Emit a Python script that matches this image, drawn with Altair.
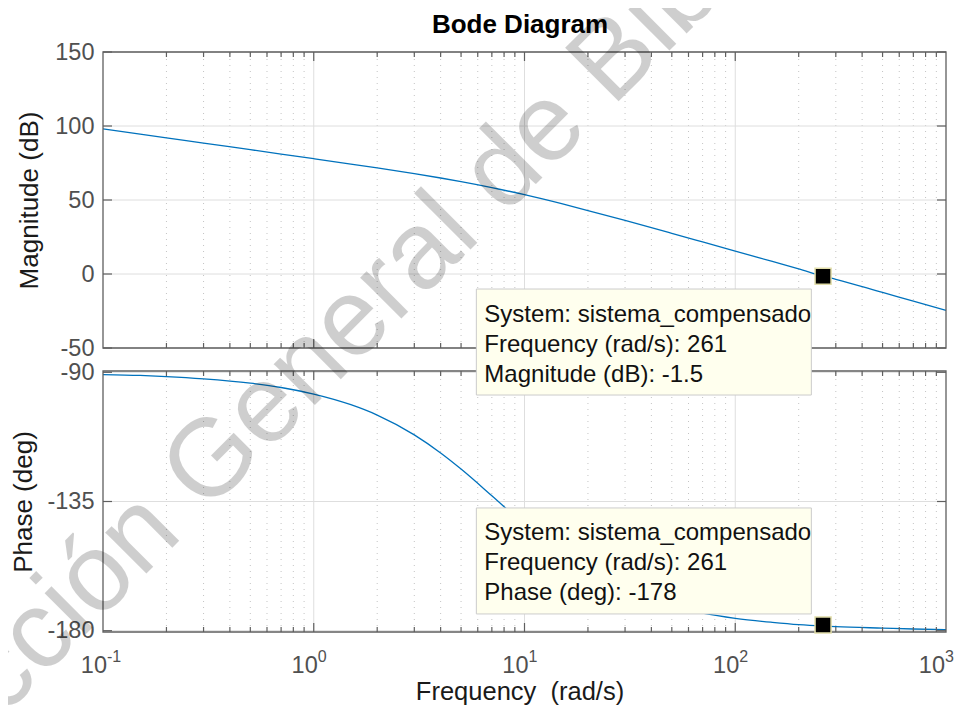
import altair as alt
import pandas as pd

# ---------------- data ----------------
freq = [0.1, 0.15, 0.2, 0.3, 0.5, 0.7, 1, 1.5, 2, 3, 4, 5, 7, 10, 15, 20,
        30, 50, 70, 100, 150, 200, 261, 300, 500, 700, 1000]
mag_db = [98.0, 94.5, 92.0, 88.45, 84.0, 81.06, 77.92, 74.31, 71.68, 67.82,
          64.87, 62.42, 58.38, 53.56, 47.49, 42.89, 36.16, 27.45, 21.65,
          15.48, 8.45, 3.46, -1.4, -3.58, -12.46, -18.3, -24.5]
phase_deg = [-90.8, -91.1, -91.5, -92.3, -93.8, -95.3, -97.6, -101.3, -104.9,
             -111.8, -118.1, -123.7, -133.0, -143.1, -153.4, -159.4, -166.0,
             -171.5, -173.9, -175.7, -177.1, -177.9, -178.4, -178.6, -179.1,
             -179.4, -179.6]

mag_ticks = [-50, 0, 50, 100, 150]
phase_ticks = [-180, -135, -90]
decades = [0.1, 1, 10, 100, 1000]
exponents = ["-1", "0", "1", "2", "3"]
inner_decades = [1, 10, 100]
minor_freqs = [m * d for d in [0.1, 1, 10, 100] for m in range(2, 10)]

marker_freq = [261]
marker_mag = [-1.5]
marker_phase = [-178]
tip_mag_lines = ["System: sistema_compensado", "Frequency (rad/s): 261", "Magnitude (dB): -1.5"]
tip_phase_lines = ["System: sistema_compensado", "Frequency (rad/s): 261", "Phase (deg): -178"]
watermark = "Dirección General de Bibliotecas"

# ---------------- styling ----------------
FONT = "Liberation Sans"
BLUE = "#0072BD"
EDGE = "#5f5f5f"
LABEL = "#505050"
GRID = "#dedede"
MINOR = "#c4c4c4"

X_SCALE = alt.Scale(type="log", domain=[0.1, 1000], nice=False)
SCALES = {
    "mag": alt.Scale(domain=[-50, 150], range=[296, 0], nice=False),
    "ph": alt.Scale(domain=[-180.45, -89.55], range=[580, 319], nice=False),
}
LIMITS = {"mag": (-50, 150), "ph": (-180.45, -89.55)}
YTICKS = {"mag": mag_ticks, "ph": phase_ticks}


def X(field="f"):
    return alt.X(f"{field}:Q", scale=X_SCALE, axis=None)


def Y(field, panel, axis=None):
    return alt.Y(f"{field}:Q", scale=SCALES[panel], axis=axis)


def grid_layers(panel):
    lo, hi = LIMITS[panel]
    out = []
    df = pd.DataFrame({"f": minor_freqs, "lo": lo, "hi": hi})
    out.append(alt.Chart(df).mark_rule(color=MINOR, strokeWidth=1, strokeDash=[1, 5])
               .encode(x=X(), y=Y("lo", panel), y2="hi"))
    df = pd.DataFrame({"f": inner_decades, "lo": lo, "hi": hi})
    out.append(alt.Chart(df).mark_rule(color=GRID, strokeWidth=1)
               .encode(x=X(), y=Y("lo", panel), y2="hi"))
    df = pd.DataFrame({"v": YTICKS[panel], "xl": 0.1, "xr": 1000})
    out.append(alt.Chart(df).mark_rule(color=GRID, strokeWidth=1)
               .encode(x=X("xl"), x2="xr", y=Y("v", panel)))
    return out


def edge_layers(panel):
    lo, hi = LIMITS[panel]
    out = []
    for fvals, length in ((inner_decades, 9), (minor_freqs, 5)):
        for yval, sign in ((hi, 1), (lo, -1)):
            df = pd.DataFrame({"f": fvals, "v": yval})
            out.append(alt.Chart(df).mark_rule(color=EDGE, strokeWidth=1.2, y2Offset=sign * length)
                       .encode(x=X(), y=Y("v", panel), y2="v"))
    for xval, sign in ((0.1, 1), (1000, -1)):
        df = pd.DataFrame({"v": YTICKS[panel], "xe": xval})
        out.append(alt.Chart(df).mark_rule(color=EDGE, strokeWidth=1.2, x2Offset=sign * 9)
                   .encode(x=X("xe"), x2="xe", y=Y("v", panel)))
    df = pd.DataFrame({"x0": [0.1], "x1": [1000], "y0": [lo], "y1": [hi]})
    out.append(alt.Chart(df).mark_rect(filled=False, stroke=EDGE, strokeWidth=1.3)
               .encode(x=X("x0"), x2="x1", y=Y("y0", panel), y2="y1"))
    return out


def y_axis(values, title, pad):
    return alt.Axis(orient="left", values=values, grid=False, ticks=False, tickSize=0,
                    domain=False, labelFontSize=23.5, labelColor=LABEL, labelPadding=9,
                    labelFont=FONT, labelExpr="datum.value + ''",
                    title=title, titleFont=FONT, titleFontSize=26, titleColor="#1a1a1a",
                    titleFontWeight="normal", titlePadding=pad)


curve = pd.DataFrame({"f": freq, "mag": mag_db, "ph": phase_deg})

mag_line = alt.Chart(curve).mark_line(color=BLUE, strokeWidth=1.3, interpolate="monotone").encode(
    x=X(), y=Y("mag", "mag", y_axis(mag_ticks, "Magnitude (dB)", 12)))
ph_line = alt.Chart(curve).mark_line(color=BLUE, strokeWidth=1.3, interpolate="monotone").encode(
    x=X(), y=Y("ph", "ph", y_axis(phase_ticks, "Phase (deg)", 10)))


def tip_layers(panel, values, lines, box_off, text_offs):
    df = pd.DataFrame({"f": marker_freq, "v": values})
    out = [alt.Chart(df).mark_rect(fill="#ffffee", stroke="#cccccc", strokeWidth=1,
                                   xOffset=-346.7, x2Offset=-11.7,
                                   yOffset=box_off[0], y2Offset=box_off[1])
           .encode(x=X(), x2="f", y=Y("v", panel), y2="v")]
    for line, dy in zip(lines, text_offs):
        d = pd.DataFrame({"f": marker_freq, "v": values, "t": [line]})
        out.append(alt.Chart(d).mark_text(align="left", baseline="middle", dx=-338.7, dy=dy,
                                          font=FONT, fontSize=24, color="#111111")
                   .encode(x=X(), y=Y("v", panel), text="t:N"))
    return out


def marker_layer(panel, values):
    df = pd.DataFrame({"f": marker_freq, "v": values})
    return alt.Chart(df).mark_square(filled=True, fill="#000000", stroke="#e2deaa",
                                     strokeWidth=1.5, size=256, opacity=1).encode(
        x=X(), y=Y("v", panel))


def tick_label_layers(fvals, exps, dx):
    df = pd.DataFrame({"f": fvals, "base": ["10"] * len(fvals), "exp": exps})
    base = alt.Chart(df).mark_text(align="right", baseline="alphabetic", dx=dx,
                                   font=FONT, fontSize=23.5, color=LABEL).encode(
        x=X(), y=alt.value(621), text="base:N")
    exp = alt.Chart(df).mark_text(align="left", baseline="alphabetic", dx=dx,
                                  font=FONT, fontSize=16, color=LABEL).encode(
        x=X(), y=alt.value(610), text="exp:N")
    return [base, exp]


txt = pd.DataFrame({"t": ["Bode Diagram"]})
title = alt.Chart(txt).mark_text(align="center", baseline="alphabetic", font=FONT,
                                 fontSize=26, fontWeight="bold", color="#000000").encode(
    x=alt.value(417), y=alt.value(-19), text="t:N")
xt = pd.DataFrame({"t": ["Frequency\u00a0 (rad/s)"]})
xtitle = alt.Chart(xt).mark_text(align="center", baseline="alphabetic", font=FONT,
                                 fontSize=25.5, color="#1a1a1a").encode(
    x=alt.value(417), y=alt.value(648), text="t:N")

wm = pd.DataFrame({"t": [watermark]})
wm_layer = alt.Chart(wm).mark_text(align="left", baseline="alphabetic", font=FONT,
                                   fontSize=110, angle=315, color="#000000", opacity=0.19).encode(
    x=alt.value(-243), y=alt.value(808), text="t:N")

layers = []
layers += grid_layers("mag") + grid_layers("ph")
layers += [mag_line, ph_line]
layers += edge_layers("mag") + edge_layers("ph")
layers += tip_layers("ph", marker_phase, tip_phase_lines, (-117, -11), (-92, -62, -32))
layers += tip_layers("mag", marker_mag, tip_mag_lines, (12.8, 118.8), (38.8, 68.8, 98.8))
layers += [marker_layer("mag", marker_mag), marker_layer("ph", marker_phase)]
layers += tick_label_layers(decades[:-1], exponents[:-1], 4)
layers += tick_label_layers(decades[-1:], exponents[-1:], -1)
layers += [title, xtitle, wm_layer]

chart = alt.layer(*layers).resolve_scale(y="independent").properties(
    width=843, height=580,
    autosize=alt.AutoSizeParams(type="none"),
    padding={"left": 95, "top": 44, "right": 10, "bottom": 75},
    background="white",
).configure_view(stroke="transparent")

chart.save("out.html", embed_options={"renderer": "svg", "actions": False})
